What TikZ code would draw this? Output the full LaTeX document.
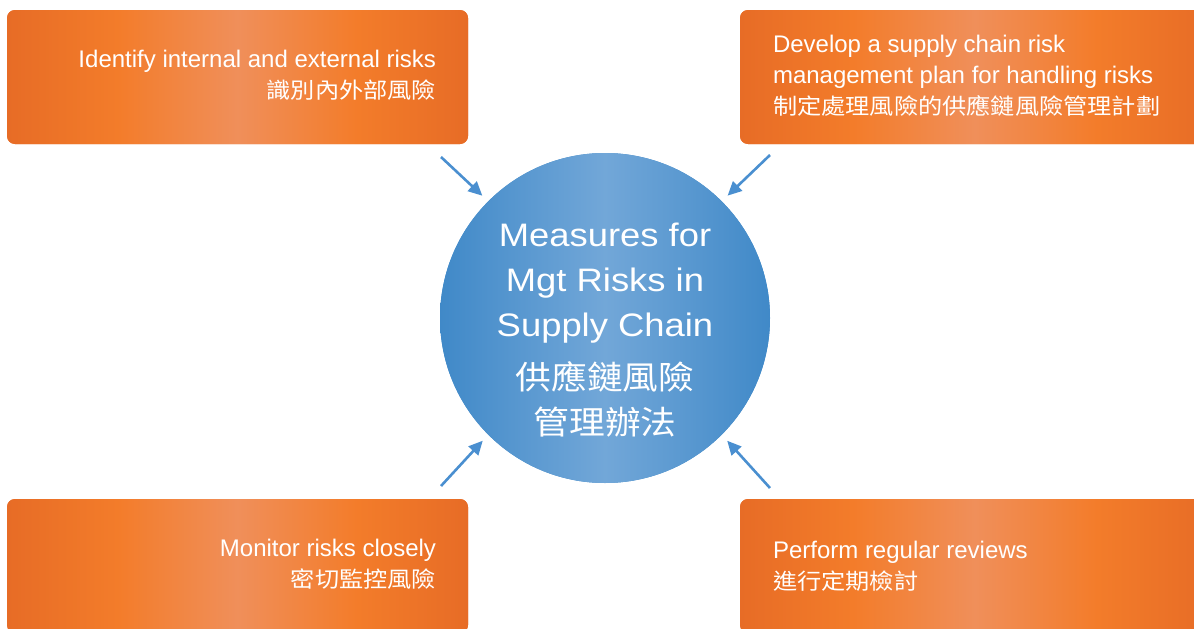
\documentclass[tikz,border=0pt]{standalone}
\usepackage{fontspec}
\setmainfont{Liberation Sans}
\newfontfamily\cjk[FakeStretch=1.1]{Noto Sans CJK TC}
\newfontfamily\hubfont[FakeStretch=1.12]{Liberation Sans}
\usetikzlibrary{arrows.meta, positioning}

\definecolor{orgdark}{RGB}{231,108,38}
\definecolor{orgmid}{RGB}{243,124,42}
\definecolor{orglight}{RGB}{240,143,90}
\definecolor{bluedark}{RGB}{64,137,200}
\definecolor{bluelight}{RGB}{114,167,216}
\definecolor{arrowblue}{RGB}{74,143,208}

\pgfdeclarehorizontalshading{orangebar}{100bp}{color(0bp)=(orgdark); color(25bp)=(orgdark); color(37bp)=(orgmid); color(50bp)=(orglight); color(63bp)=(orgmid); color(75bp)=(orgdark); color(100bp)=(orgdark)}
\pgfdeclarehorizontalshading{bluedisc}{100bp}{color(0bp)=(bluedark); color(25bp)=(bluedark); color(50bp)=(bluelight); color(75bp)=(bluedark); color(100bp)=(bluedark)}

\newcommand{\cjkbox}{\cjk\fontsize{22}{31}\selectfont}
\newcommand{\cjkhub}{\cjk\fontsize{32.5}{45}\selectfont}

\begin{document}
\begin{tikzpicture}[x=1pt, y=-1pt,
    riskbox/.style={rectangle, rounded corners=8pt, fill=orgdark, shade, shading=orangebar, minimum width=461pt, minimum height=134pt, inner sep=0pt},
    boxtext/.style={text=white, inner sep=0pt, font=\fontsize{24}{31}\selectfont},
    hub/.style={circle, fill=bluedark, shade, shading=bluedisc, minimum size=330pt, inner sep=0pt},
    hubtext/.style={text=white, align=center, inner sep=0pt, font=\hubfont\fontsize{32.5}{45}\selectfont},
    measure/.style={draw=arrowblue, line width=2.6pt, shorten >=8pt, -{Triangle[length=14pt, width=13pt]}}]
\useasboundingbox (0,0) rectangle (1194,629);
\clip (0,0) rectangle (1194,629);

% the four measures
\node[riskbox] (idbox) at (237.5,77) {};
\node[riskbox, minimum width=470pt] (planbox) at (975,77) {};
\node[riskbox] (monbox) at (237.5,566) {};
\node[riskbox, minimum width=470pt] (revbox) at (975,566) {};

\node[boxtext, align=right, left=32pt of idbox.east, yshift=2pt] (idtext) {Identify internal and external risks\\{\cjkbox 識別內外部風險}};
\node[boxtext, align=left, right=33pt of planbox.west, yshift=1pt] (plantext) {Develop a supply chain risk\\management plan for handling risks\\{\cjkbox 制定處理風險的供應鏈風險管理計劃}};
\node[boxtext, align=right, left=32pt of monbox.east, yshift=2pt] (montext) {Monitor risks closely\\{\cjkbox 密切監控風險}};
\node[boxtext, align=left, right=33pt of revbox.west, yshift=0pt] (revtext) {Perform regular reviews\\{\cjkbox 進行定期檢討}};

% centre circle
\node[hub] (hub) at (605,318) {};
\node[hubtext, below=0pt of hub.center, anchor=center, yshift=-12pt] (hubtext) {Measures for\\Mgt Risks in\\Supply Chain\\[8pt]{\cjkhub 供應鏈風險}\\{\cjkhub 管理辦法}};

% arrows into the circle
\coordinate (idtail) at (441,157);
\coordinate (plantail) at (770,155);
\coordinate (montail) at (441,486);
\coordinate (revtail) at (770,488);
\draw[measure] (idtail) -- (hub.135);
\draw[measure] (plantail) -- (hub.45);
\draw[measure] (montail) -- (hub.225);
\draw[measure] (revtail) -- (hub.315);
\end{tikzpicture}
\end{document}
